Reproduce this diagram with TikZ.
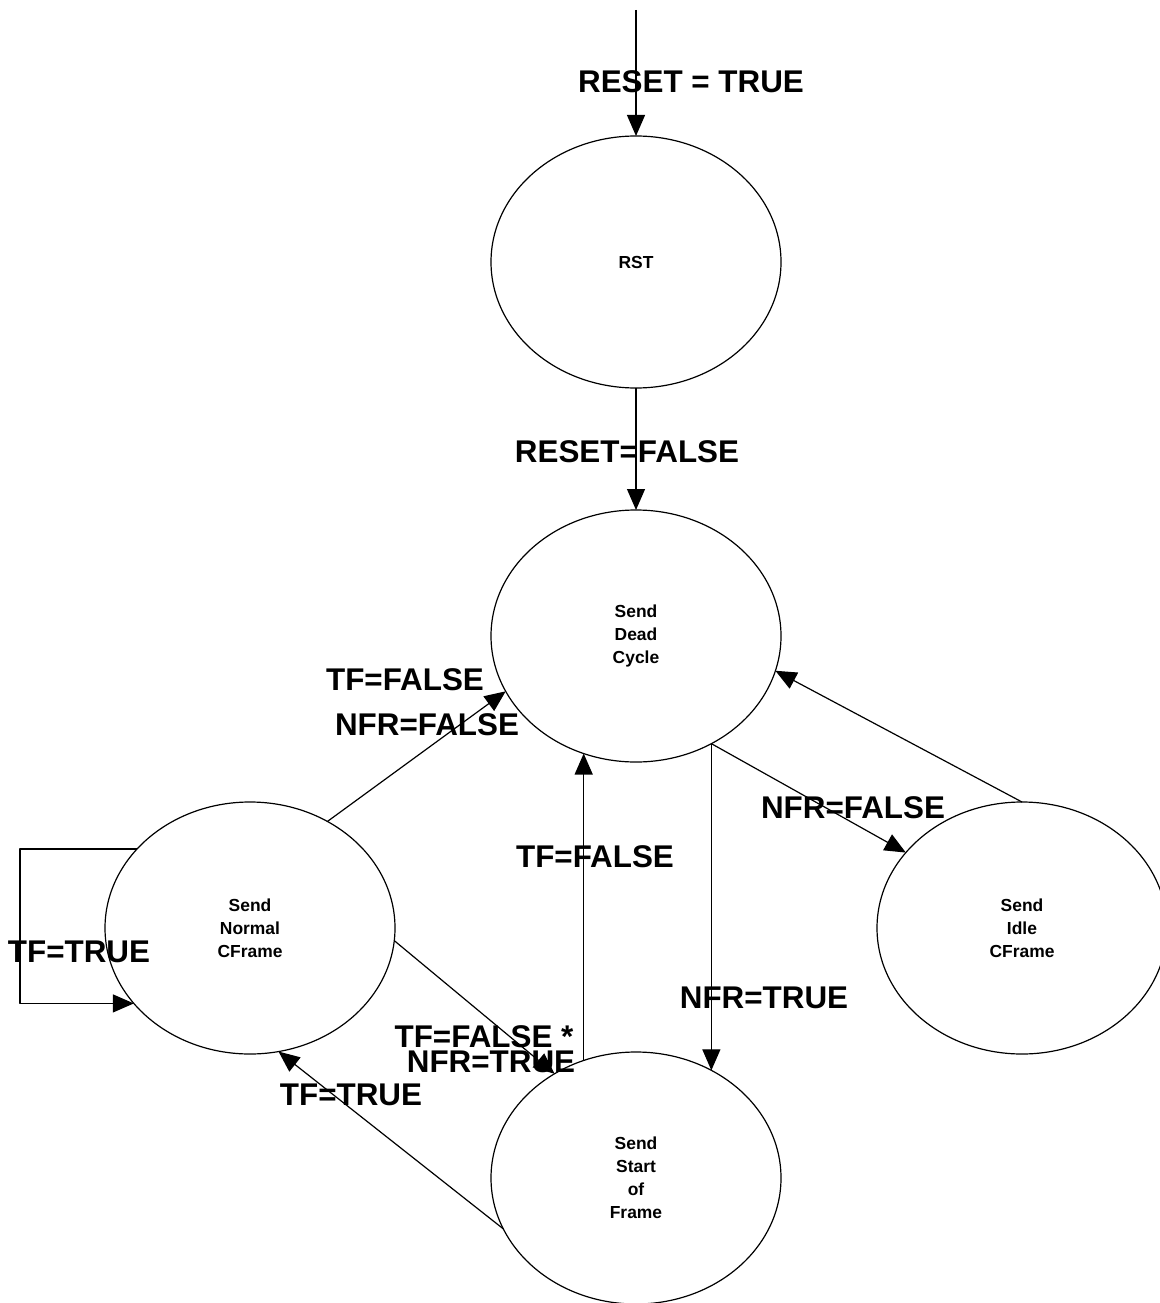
\documentclass[tikz,border=0pt]{standalone}
\usepackage{fontspec}
\setmainfont{Liberation Sans}
\usetikzlibrary{shapes.geometric,arrows.meta}

\tikzset{
  state/.style={draw,ellipse,minimum width=290bp,minimum height=252bp,inner sep=0pt,outer sep=0pt,
    align=center,font=\fontsize{17.5}{23}\selectfont\bfseries},
  cond/.style={inner sep=0pt,font=\fontsize{31.5}{34}\selectfont\bfseries},
}

\begin{document}
\begin{tikzpicture}[x=1bp,y=-1bp,>={Triangle[length=21bp,width=18bp]},line width=1.2bp,line join=bevel]
\useasboundingbox (0,0) rectangle (1159,1303);
%%
\node (rst) at (636,262) [state] {RST};
  \node (dead) at (636,636) [state] {Send\\Dead\\Cycle};
  \node (normal) at (250,928) [state] {Send\\Normal\\CFrame};
  \node (idle) at (1022,928) [state] {Send\\Idle\\CFrame};
  \node (start) at (636,1178) [state] {Send\\Start\\of\\Frame};
  \coordinate (reset) at (636,10);
  \draw [->] (reset) -- (rst.north);
  \draw [->] (rst.south) -- (dead.north);
  \draw [->] (normal.54) -- (dead.203);
  \draw [->] (normal.145) -- ++(-117,0) |- (normal.213);
  \draw [->] (normal.-5) -- (start.128);
  \draw [->] (start.114) -- (dead.246);
  \draw [->] (dead.-55) -- (start.55);
  \draw [->] (dead.-55) -- (idle.147);
  \draw [->] (idle.north) -- (dead.-14);
  \draw [->] (start.201) -- (normal.-77);
%
  \node (c_reset) at (691,82) [cond] {RESET = TRUE};
  \node (c_resetf) at (627,452) [cond] {RESET=FALSE};
  \node (c_tf1) at (405,680) [cond] {TF=FALSE};
  \node (c_nfr1) at (427,725) [cond] {NFR=FALSE};
  \node (c_nfr2) at (853,808) [cond] {NFR=FALSE};
  \node (c_tf2) at (595,857) [cond] {TF=FALSE};
  \node (c_nfr3) at (764,998) [cond] {NFR=TRUE};
  \node (c_tf3) at (79,952) [cond] {TF=TRUE};
  \node (c_tf4) at (484,1037) [cond] {TF=FALSE *};
  \node (c_nfr4) at (491,1062) [cond] {NFR=TRUE};
  \node (c_tf5) at (351,1095) [cond] {TF=TRUE};
%
\end{tikzpicture}
\end{document}
